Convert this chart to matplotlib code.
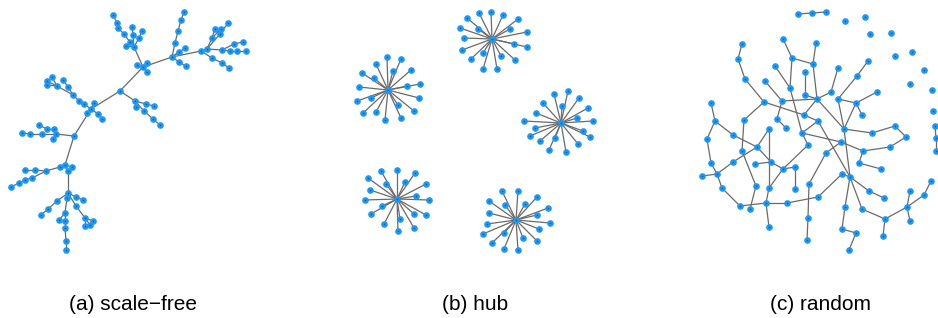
import matplotlib
matplotlib.use("Agg")
import matplotlib.pyplot as plt

# ---------------------------------------------------------
# (a) scale-free tree : node positions (pixels) + edges
# ---------------------------------------------------------
a_x = [91, 120, 94, 87, 98, 102, 84, 79, 73, 68, 63, 57, 47, 47, 52,
       74, 56, 54, 47, 39, 53, 42, 30, 22, 65, 72, 60, 68, 46, 35,
       25, 32, 25, 19, 11, 68, 76, 83, 67, 57, 48, 41, 76, 65, 59,
       65, 65, 66, 66, 85, 93, 90, 85, 143, 137, 147, 147, 134, 126, 130,
       124, 118, 117, 113, 133, 132, 139, 142, 172, 175, 178, 181, 184, 179, 185,
       179, 186, 201, 207, 212, 215, 221, 220, 228, 212, 222, 229, 222, 230, 237,
       234, 243, 246, 135, 136, 146, 154, 144, 153, 160]
a_y = [109, 91, 103, 113, 114, 119, 104, 101, 95, 87, 80, 86, 81, 85, 77,
       136, 134, 129, 129, 125, 139, 134, 134, 133, 165, 167, 167, 171, 171, 170,
       170, 178, 180, 183, 187, 193, 197, 200, 198, 201, 209, 215, 206, 213, 220,
       221, 228, 241, 250, 218, 221, 225, 226, 67, 65, 63, 72, 47, 46, 42,
       34, 28, 23, 15, 35, 27, 38, 31, 57, 43, 31, 20, 12, 52, 48,
       62, 66, 51, 49, 38, 29, 29, 34, 23, 58, 63, 68, 50, 51, 51,
       44, 42, 51, 101, 107, 104, 106, 111, 119, 125]
a_edges = [(0, 1), (0, 2), (0, 3), (0, 4), (4, 5), (0, 6), (6, 7), (7, 8), (8, 9),
           (9, 10), (8, 11), (11, 12), (11, 13), (11, 14), (0, 15), (15, 16),
           (16, 17), (17, 18), (18, 19), (16, 20), (16, 21), (21, 22), (22, 23),
           (15, 24), (24, 25), (24, 26), (24, 27), (26, 28), (28, 29), (29, 30),
           (28, 31), (31, 32), (32, 33), (33, 34), (27, 35), (35, 36), (36, 37),
           (35, 38), (35, 39), (39, 40), (40, 41), (35, 42), (38, 43), (43, 44),
           (43, 45), (45, 46), (46, 47), (47, 48), (42, 49), (49, 50), (49, 51),
           (49, 52), (1, 53), (53, 54), (53, 55), (53, 56), (53, 57), (57, 58),
           (57, 59), (59, 60), (60, 61), (61, 62), (62, 63), (57, 64), (64, 65),
           (57, 66), (66, 67), (53, 68), (68, 69), (69, 70), (70, 71), (71, 72),
           (68, 73), (68, 74), (68, 75), (75, 76), (68, 77), (77, 78), (78, 79),
           (79, 80), (79, 81), (78, 82), (82, 83), (77, 84), (84, 85), (85, 86),
           (78, 87), (87, 88), (88, 89), (87, 90), (90, 91), (89, 92), (1, 93),
           (93, 94), (93, 95), (95, 96), (93, 97), (97, 98), (98, 99)]

# ---------------------------------------------------------
# (b) hub graph : hub centres + leaves of every hub
# ---------------------------------------------------------
hub_x = [388, 492, 561, 397, 516]
hub_y = [90, 39, 123, 199, 220]
leaf_x = [
    [387, 401, 376, 393, 411, 362, 374, 359, 407, 420, 357, 371, 419, 363, 376, 398, 414, 385, 401],
    [479, 491, 503, 467, 518, 478, 510, 460, 527, 464, 514, 527, 462, 483, 501, 515, 471, 483, 497],
    [554, 568, 543, 579, 562, 588, 536, 577, 524, 593, 535, 590, 583, 540, 549, 566, 578, 555, 530],
    [381, 397, 415, 368, 386, 405, 426, 370, 416, 365, 429, 382, 371, 414, 426, 400, 384, 414, 398],
    [502, 518, 537, 489, 505, 525, 548, 489, 537, 487, 550, 483, 504, 539, 523, 492, 537, 504, 518],
]
leaf_y = [
    [57, 59, 64, 71, 70, 73, 78, 87, 86, 84, 101, 98, 98, 113, 112, 105, 111, 120, 118],
    [13, 12, 15, 18, 19, 29, 29, 28, 32, 38, 44, 47, 50, 53, 56, 60, 59, 69, 69],
    [94, 91, 103, 98, 106, 108, 113, 118, 121, 121, 128, 137, 131, 141, 150, 152, 144, 138, 136],
    [171, 170, 173, 178, 184, 182, 184, 190, 196, 200, 200, 206, 214, 214, 215, 219, 224, 228, 231],
    [191, 191, 197, 201, 205, 204, 208, 213, 215, 224, 223, 234, 233, 229, 238, 243, 241, 249, 250],
]

# ---------------------------------------------------------
# (c) random graph
# ---------------------------------------------------------
c_x = [798, 812, 826, 845, 865, 870, 891, 895, 912, 924, 910, 932, 933,
       742, 783, 816, 738, 792, 813, 775, 805, 745, 765, 838, 868, 790,
       805, 817, 782, 764, 711, 831, 838, 857, 877, 856, 804, 715, 744,
       777, 786, 769, 818, 862, 844, 707, 733, 802, 808, 757, 742, 711,
       733, 755, 771, 783, 795, 702, 717, 809, 722, 756, 769, 795, 818,
       740, 750, 766, 787, 769, 808, 807, 841, 826, 872, 895, 906, 890,
       863, 859, 881, 842, 850, 869, 884, 931, 910, 924, 907, 910, 845,
       862, 885, 883, 842, 856, 849, 935, 936, 936]
c_y = [14, 13, 12, 21, 17, 34, 33, 56, 52, 70, 84, 90, 111,
       44, 39, 43, 59, 58, 64, 66, 72, 79, 81, 68, 61, 88,
       95, 99, 101, 102, 103, 92, 99, 76, 92, 103, 115, 121, 120,
       119, 128, 129, 121, 115, 129, 139, 135, 133, 145, 147, 151, 163,
       162, 164, 162, 169, 167, 176, 174, 184, 188, 186, 188, 189, 197,
       206, 209, 203, 203, 227, 218, 240, 142, 153, 133, 126, 137, 147,
       151, 163, 169, 174, 177, 191, 198, 181, 191, 195, 207, 221, 207,
       209, 219, 236, 229, 233, 250, 126, 138, 151]
c_edges = [(0, 1), (1, 2), (13, 16), (16, 21), (21, 29), (14, 17), (17, 25),
           (17, 18), (15, 18), (18, 27), (19, 25), (20, 26), (22, 28), (29, 38),
           (29, 36), (28, 27), (28, 39), (39, 40), (25, 47), (26, 27), (27, 31),
           (23, 31), (24, 33), (33, 32), (34, 35), (32, 35), (32, 44), (35, 44),
           (35, 43), (27, 44), (27, 36), (30, 37), (37, 45), (37, 46), (38, 50),
           (45, 51), (51, 58), (57, 58), (58, 60), (60, 65), (65, 67), (66, 61),
           (58, 52), (52, 49), (46, 49), (49, 41), (49, 54), (53, 54), (41, 62),
           (50, 61), (62, 67), (67, 69), (62, 55), (55, 54), (55, 48), (56, 63),
           (47, 48), (67, 68), (68, 64), (59, 70), (70, 71), (47, 42), (47, 72),
           (44, 74), (74, 75), (75, 76), (76, 77), (77, 78), (78, 72), (44, 82),
           (42, 82), (79, 80), (78, 79), (82, 81), (82, 83), (83, 84), (82, 90),
           (90, 94), (94, 95), (95, 96), (82, 91), (91, 92), (92, 93), (92, 88),
           (88, 87), (87, 85), (86, 88), (88, 89), (81, 64), (73, 59), (72, 73),
           (36, 42), (55, 56), (97, 98), (98, 99)]

labels = ["(a) scale\u2212free", "(b) hub", "(c) random"]
label_x = [133, 475, 820]

node_color = "#1c98f5"
edge_color = "#6a6a6a"

fig = plt.figure(figsize=(9.38, 3.18), dpi=100)
ax = fig.add_axes([0, 0, 1, 1])
ax.set_xlim(0, 938)
ax.set_ylim(318, 0)
ax.axis("off")


def draw_graph(xs, ys, edges):
    for i, j in edges:
        ax.plot([xs[i], xs[j]], [ys[i], ys[j]], color=edge_color,
                lw=0.9, zorder=1, solid_capstyle="round")
    ax.plot(xs, ys, "o", color=node_color, ms=4.8, mew=0, zorder=2)
    ax.plot(xs, ys, "o", color="#1a5f98", ms=1.2, mew=0, zorder=3)


# panel (a)
draw_graph(a_x, a_y, a_edges)

# panel (b)
for k in range(len(hub_x)):
    xs = [hub_x[k]] + leaf_x[k]
    ys = [hub_y[k]] + leaf_y[k]
    edges = [(0, n) for n in range(1, len(xs))]
    draw_graph(xs, ys, edges)

# panel (c)
draw_graph(c_x, c_y, c_edges)

for text, x in zip(labels, label_x):
    ax.text(x, 305, text, ha="center", va="center", fontsize=15,
            family="Liberation Sans")

fig.savefig("out.png", dpi=100)
plt.close(fig)
